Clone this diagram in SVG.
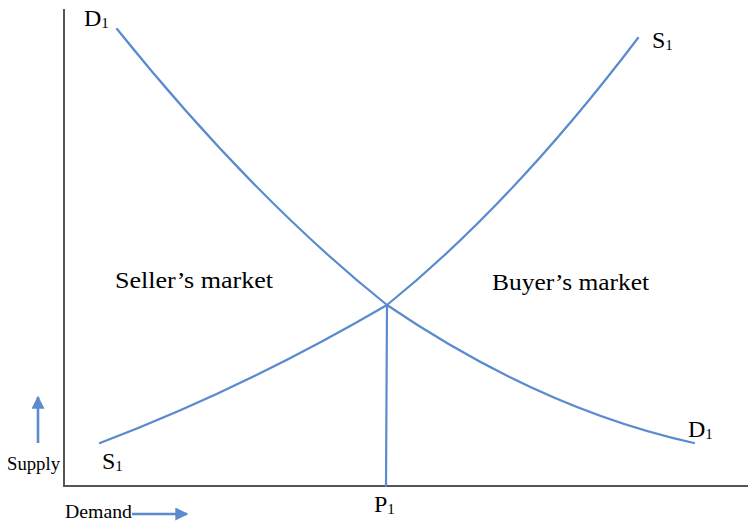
<svg xmlns="http://www.w3.org/2000/svg" width="748" height="525" viewBox="0 0 748 525">
<style>
.curve{fill:none;stroke:#5B8BCF;stroke-width:2.2;stroke-linecap:round}
.arrow{fill:none;stroke:#5B8BCF;stroke-width:2.6}
.axis{fill:none;stroke:#555;stroke-width:2}
.lbl{font-family:"Liberation Serif","Times New Roman",serif;fill:#000}
.big{font-size:24px}
.sub{font-size:15px}
.small{font-size:18px}
</style>
<defs>
<marker id="ah" viewBox="0 0 10 10" refX="9" refY="5" markerWidth="13" markerHeight="13" markerUnits="userSpaceOnUse" orient="auto">
<path d="M0,0 L10,5 L0,10 z" fill="#5B8BCF"/>
</marker>
</defs>
<rect width="748" height="525" fill="#fff"/>
<g id="axes">
<path class="axis" d="M64,9 V486 H748"/>
</g>
<g id="curves">
<path id="demand" class="curve" d="M117,29 Q252,197 387,305 Q540,409 694,443"/>
<path id="supply" class="curve" d="M100,443 Q243,389 387,305 Q512,204 638,38"/>
<path id="p1line" class="curve" d="M387,305 L386,486"/>
<path id="supply-arrow" class="arrow" d="M38,443 V397" marker-end="url(#ah)"/>
<path id="demand-arrow" class="arrow" d="M132,514 H187" marker-end="url(#ah)"/>
</g>
<g id="labels">
<text class="lbl big" x="84" y="26">D<tspan class="sub" dy="2">1</tspan></text>
<text class="lbl big" x="652" y="48">S<tspan class="sub" dy="2">1</tspan></text>
<text class="lbl big" x="688" y="437">D<tspan class="sub" dy="2">1</tspan></text>
<text class="lbl big" x="102" y="469">S<tspan class="sub" dy="2">1</tspan></text>
<text class="lbl big" x="374" y="512">P<tspan class="sub" dy="2">1</tspan></text>
<text class="lbl big" x="115" y="288" textLength="158" lengthAdjust="spacingAndGlyphs">Seller’s market</text>
<text class="lbl big" x="492" y="290" textLength="157" lengthAdjust="spacingAndGlyphs">Buyer’s market</text>
<text class="lbl small" x="7" y="470" textLength="53" lengthAdjust="spacingAndGlyphs">Supply</text>
<text class="lbl small" x="65" y="518" textLength="67" lengthAdjust="spacingAndGlyphs">Demand</text>
</g>
</svg>
